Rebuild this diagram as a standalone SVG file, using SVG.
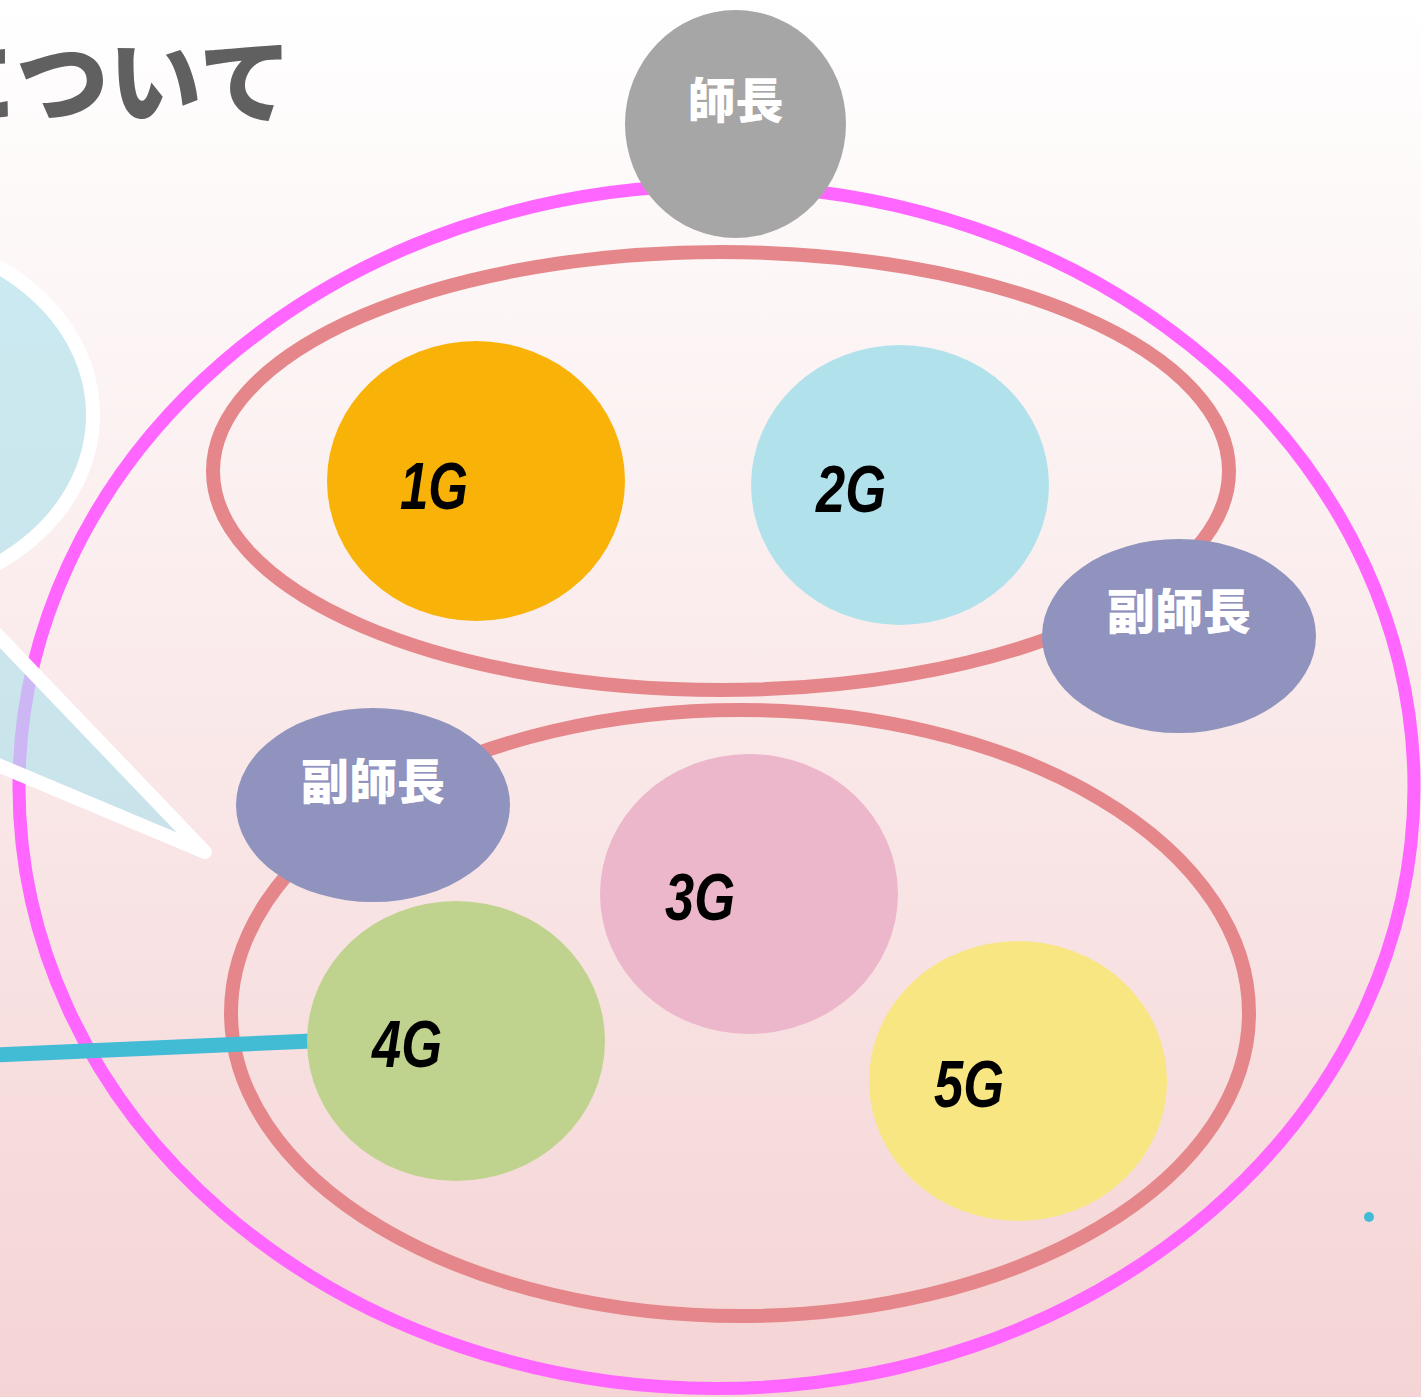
<svg xmlns="http://www.w3.org/2000/svg" width="1421" height="1397" viewBox="0 0 1421 1397">
  <defs>
    <linearGradient id="bg" x1="0" y1="0" x2="0" y2="1">
      <stop offset="0" stop-color="#ffffff"/>
      <stop offset="1" stop-color="#f5d4d5"/>
    </linearGradient>
    <style>
      .ring { fill: none; }
      .outer { stroke: #ff66ff; stroke-width: 13; }
      .inner { stroke: #e5878a; stroke-width: 14; }
      .jp { font-family: "Noto Sans CJK JP", "Noto Sans", sans-serif; font-weight: 900; }
      .lead { fill: #ffffff; font-size: 48px; text-anchor: middle; }
      .gen { font-family: "Liberation Sans", Arial, sans-serif; font-weight: bold; font-style: italic; font-size: 66px; fill: #000000; }
      .vice { fill: #8f93be; }
    </style>
  </defs>
  <rect x="0" y="0" width="1421" height="1397" fill="url(#bg)"/>

  <text id="title" class="jp" x="292" y="116" font-size="93" fill="#606060" text-anchor="end">について</text>

  <g id="groups">
    <ellipse id="outer-ring" class="ring outer" cx="716.5" cy="787" rx="697.5" ry="601.5"/>
    <ellipse id="upper-ring" class="ring inner" cx="721" cy="471" rx="508" ry="219"/>
    <ellipse id="lower-ring" class="ring inner" cx="740" cy="1013" rx="509" ry="303"/>
  </g>

  <g id="bubble">
    <path d="M -40 596 L 205 852 L -40 749 Z" fill="#b1e2ec" fill-opacity="0.65" stroke="#ffffff" stroke-width="14" stroke-linejoin="round"/>
    <ellipse cx="-130" cy="415" rx="223" ry="181" fill="#b1e2ec" fill-opacity="0.65" stroke="#ffffff" stroke-width="14"/>
  </g>

  <g id="connectors">
    <line x1="-5" y1="1055" x2="312" y2="1041" stroke="#42bbd4" stroke-width="15"/>
    <circle cx="1369" cy="1217" r="5" fill="#42bbd4"/>
  </g>

  <g id="node-shicho">
    <ellipse cx="735.5" cy="124" rx="110.5" ry="114" fill="#a6a6a6"/>
    <text class="jp lead" x="735.5" y="118">師長</text>
  </g>

  <g id="node-1g">
    <ellipse cx="476" cy="481" rx="149" ry="140" fill="#f9b208"/>
    <text class="gen" x="400" y="509" textLength="68" lengthAdjust="spacingAndGlyphs">1G</text>
  </g>
  <g id="node-2g">
    <ellipse cx="900" cy="485" rx="149" ry="140" fill="#b1e2ec"/>
    <text class="gen" x="816" y="512" textLength="70" lengthAdjust="spacingAndGlyphs">2G</text>
  </g>

  <g id="node-fukushicho-right">
    <ellipse class="vice" cx="1179" cy="636" rx="137" ry="97"/>
    <text class="jp lead" x="1179" y="629">副師長</text>
  </g>

  <g id="node-3g">
    <ellipse cx="749" cy="894" rx="149" ry="140" fill="#ecb7ca"/>
    <text class="gen" x="665" y="920" textLength="70" lengthAdjust="spacingAndGlyphs">3G</text>
  </g>
  <g id="node-4g">
    <ellipse cx="456" cy="1041" rx="149" ry="140" fill="#c0d38e"/>
    <text class="gen" x="372" y="1067" textLength="70" lengthAdjust="spacingAndGlyphs">4G</text>
  </g>
  <g id="node-5g">
    <ellipse cx="1018" cy="1081" rx="149" ry="140" fill="#f8e683"/>
    <text class="gen" x="934" y="1107" textLength="70" lengthAdjust="spacingAndGlyphs">5G</text>
  </g>

  <g id="node-fukushicho-left">
    <ellipse class="vice" cx="373" cy="805" rx="137" ry="97"/>
    <text class="jp lead" x="373" y="799">副師長</text>
  </g>
</svg>
